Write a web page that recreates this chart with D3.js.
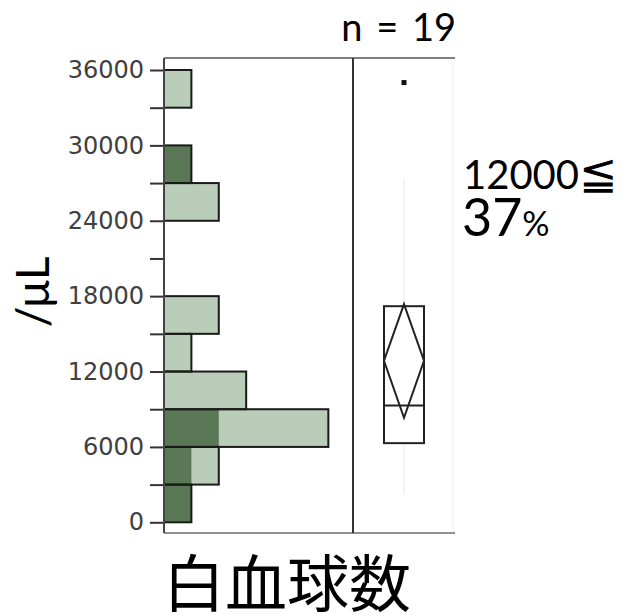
<!DOCTYPE html>
<html>
<head>
<meta charset="utf-8">
<script src="https://cdn.jsdelivr.net/npm/d3@7"></script>
<style>
  body { margin: 0; background: #fff; }
  svg { display: block; }
</style>
</head>
<body>
<svg width="631" height="616"></svg>
<script>
// Datos del histograma (bins de 3000)
const binStarts = [0, 3000, 6000, 9000, 12000, 15000, 18000, 21000, 24000, 27000, 30000, 33000];
const binWidth = 3000;
const allCounts = [1, 2, 6, 3, 1, 2, 0, 0, 2, 1, 0, 1];
const subCounts = [1, 1, 2, 0, 0, 0, 0, 0, 0, 1, 0, 0];

const yTicks = [0, 6000, 12000, 18000, 24000, 30000, 36000];
const yMinorTicks = d3.range(0, 36001, 3000);

// Estadísticos del diagrama de caja
const boxStats = { q1: 6300, median: 9300, q3: 17200, mean: 12860, ciLow: 8320, ciHigh: 17370, whiskerLow: 2200, whiskerHigh: 27400 };
const outliers = [35000];

const svg = d3.select("svg");

const y = d3.scaleLinear().domain([0, 36000]).range([522.3, 70]);
const x = d3.scaleLinear().domain([0, 6.9]).range([164, 353]);

const frameTop = 58, frameBottom = 533;
const boxLeft = 384, boxRight = 424, boxMid = (boxLeft + boxRight) / 2;

// Borde derecho tenue del panel
svg.append("line")
  .attr("x1", 453).attr("x2", 453).attr("y1", frameTop).attr("y2", frameBottom)
  .attr("stroke", "#eeeeee").attr("stroke-width", 1);

const bins = binStarts.map((b, i) => ({ start: b, all: allCounts[i], sub: subCounts[i] }));

// Barras claras (todos)
svg.selectAll(".barAll")
  .data(bins.filter(d => d.all > 0))
  .enter()
  .append("rect")
  .attr("class", "barAll")
  .attr("x", x(0))
  .attr("y", d => y(d.start + binWidth))
  .attr("width", d => x(d.all) - x(0))
  .attr("height", d => y(d.start) - y(d.start + binWidth))
  .attr("fill", "#b9cdb8");

// Barras oscuras (subgrupo)
svg.selectAll(".barSub")
  .data(bins.filter(d => d.sub > 0))
  .enter()
  .append("rect")
  .attr("class", "barSub")
  .attr("x", x(0))
  .attr("y", d => y(d.start + binWidth))
  .attr("width", d => x(d.sub) - x(0))
  .attr("height", d => y(d.start) - y(d.start + binWidth))
  .attr("fill", "#5a7856");

// Contornos
svg.selectAll(".barOutline")
  .data(bins.filter(d => d.all > 0))
  .enter()
  .append("rect")
  .attr("class", "barOutline")
  .attr("x", x(0))
  .attr("y", d => y(d.start + binWidth))
  .attr("width", d => x(d.all) - x(0))
  .attr("height", d => y(d.start) - y(d.start + binWidth))
  .attr("fill", "none")
  .attr("stroke", "#1a1a1a")
  .attr("stroke-width", 2);

// Marco
svg.append("line")
  .attr("x1", 164).attr("x2", 455).attr("y1", frameTop).attr("y2", frameTop)
  .attr("stroke", "#808080").attr("stroke-width", 2);
svg.append("line")
  .attr("x1", 164).attr("x2", 455).attr("y1", frameBottom).attr("y2", frameBottom)
  .attr("stroke", "#909090").attr("stroke-width", 2);
svg.append("line")
  .attr("x1", 353).attr("x2", 353).attr("y1", frameTop).attr("y2", frameBottom)
  .attr("stroke", "#333").attr("stroke-width", 2);

// Eje Y
const yAxis = svg.append("g")
  .attr("transform", "translate(164,0)")
  .call(d3.axisLeft(y).tickValues(yMinorTicks).tickSize(14)
    .tickFormat(d => yTicks.includes(d) ? d : ""));
yAxis.select(".domain").remove();
yAxis.selectAll(".tick line").attr("stroke", "#333").attr("stroke-width", 2);
yAxis.selectAll(".tick text")
  .attr("x", -20)
  .attr("fill", "#404040")
  .style("font-family", "DejaVu Sans")
  .style("font-size", "24px");
svg.append("line")
  .attr("x1", 164).attr("x2", 164).attr("y1", frameTop).attr("y2", frameBottom)
  .attr("stroke", "#444").attr("stroke-width", 2);

// Bigotes
svg.append("line")
  .attr("x1", boxMid).attr("x2", boxMid)
  .attr("y1", y(boxStats.whiskerHigh)).attr("y2", y(boxStats.whiskerLow))
  .attr("stroke", "#e8e8e8").attr("stroke-width", 1);

// Caja
svg.append("rect")
  .attr("x", boxLeft).attr("y", y(boxStats.q3))
  .attr("width", boxRight - boxLeft)
  .attr("height", y(boxStats.q1) - y(boxStats.q3))
  .attr("fill", "#fff")
  .attr("stroke", "#222").attr("stroke-width", 2);
svg.append("line")
  .attr("x1", boxLeft).attr("x2", boxRight)
  .attr("y1", y(boxStats.median)).attr("y2", y(boxStats.median))
  .attr("stroke", "#222").attr("stroke-width", 2);

// Diamante de la media
const diamond = [
  [boxMid, y(boxStats.ciHigh)],
  [boxRight, y(boxStats.mean)],
  [boxMid, y(boxStats.ciLow)],
  [boxLeft, y(boxStats.mean)]
];
svg.append("path")
  .attr("d", d3.line()(diamond) + "Z")
  .attr("fill", "none")
  .attr("stroke", "#222").attr("stroke-width", 2);

// Valores atípicos
svg.selectAll(".outlier")
  .data(outliers)
  .enter()
  .append("rect")
  .attr("class", "outlier")
  .attr("x", boxMid - 2.5).attr("y", d => y(d) - 2.5)
  .attr("width", 5).attr("height", 5)
  .attr("fill", "#111");

// Textos
svg.append("text")
  .attr("x", 456).attr("y", 41)
  .attr("text-anchor", "end")
  .style("font-family", "Lato")
  .style("font-size", "38px")
  .style("word-spacing", "4px")
  .text("n = 19");

const cond = svg.append("text")
  .attr("x", 463).attr("y", 189)
  .style("font-family", "Lato")
  .style("font-size", "40px");
cond.append("tspan").text("12000");
cond.append("tspan").style("font-size", "46px").text("≦");

const pct = svg.append("text")
  .attr("x", 462).attr("y", 236)
  .style("font-family", "Lato");
pct.append("tspan").style("font-size", "52px").text("37");
pct.append("tspan").style("font-size", "34px").text("%");

svg.append("text")
  .attr("transform", "translate(49,292) rotate(-90)")
  .attr("text-anchor", "middle")
  .style("font-family", "Lato")
  .style("font-size", "46px")
  .text("/μL");

svg.append("text")
  .attr("x", 287).attr("y", 607)
  .attr("text-anchor", "middle")
  .style("font-family", "Noto Sans CJK JP")
  .style("font-size", "62px")
  .text("白血球数");
</script>
</body>
</html>
